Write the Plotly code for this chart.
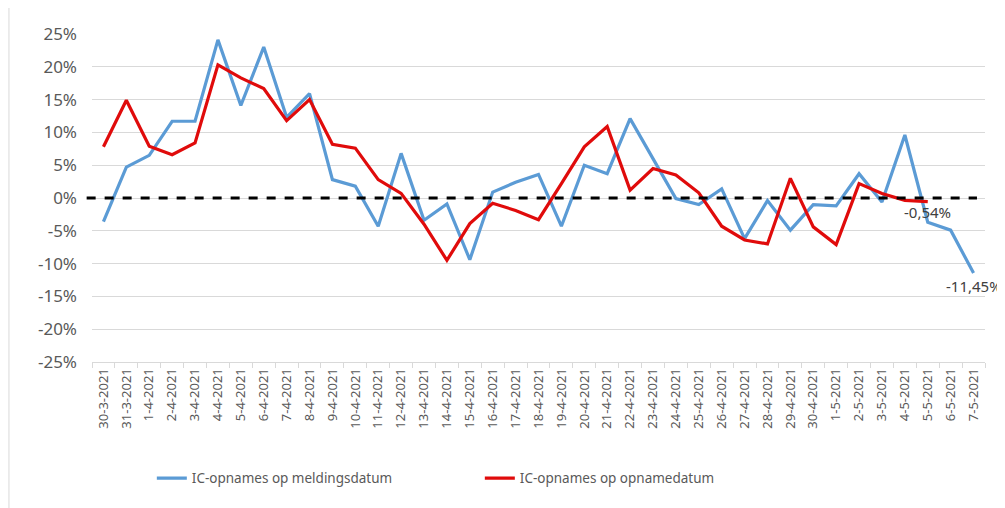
import plotly.graph_objects as go

dates = ['30-3-2021', '31-3-2021'] + [f'{d}-4-2021' for d in range(1, 31)] + [f'{d}-5-2021' for d in range(1, 8)]

melding = [-3.6, 4.7, 6.5, 11.7, 11.7, 24.1, 14.1, 23.0, 12.3, 15.9,
           2.8, 1.8, -4.3, 6.8, -3.4, -0.9, -9.4, 0.9, 2.4, 3.6,
           -4.3, 5.0, 3.7, 12.1, 6.0, -0.1, -1.0, 1.4, -6.2, -0.4,
           -4.9, -1.0, -1.2, 3.7, -0.6, 9.6, -3.7, -4.9, -11.45]

opname = [7.8, 14.9, 7.9, 6.6, 8.4, 20.3, 18.3, 16.7, 11.8, 15.0,
          8.2, 7.6, 2.8, 0.7, -4.0, -9.5, -3.9, -0.8, -1.9, -3.3,
          2.2, 7.8, 10.9, 1.2, 4.5, 3.5, 0.8, -4.3, -6.4, -7.0,
          3.0, -4.4, -7.1, 2.2, 0.7, -0.35, -0.54]

yticks = list(range(-25, 30, 5))
ytext = [f'{v}%' for v in yticks]

font = 'Noto Sans'
grey = '#595959'

fig = go.Figure()
fig.add_trace(go.Scatter(x=dates, y=melding, mode='lines', name='IC-opnames op meldingsdatum',
                         line=dict(color='#5b9bd5', width=3.2)))
fig.add_trace(go.Scatter(x=dates[:len(opname)], y=opname, mode='lines', name='IC-opnames op opnamedatum',
                         line=dict(color='#e00b0b', width=3.2)))

# zero line
fig.add_shape(type='line', xref='paper', yref='y', x0=-0.006, x1=0.991, y0=0, y1=0,
              line=dict(color='black', width=3, dash='dash'), layer='above')

# labels at line ends
fig.add_annotation(x=dates[len(opname) - 1], y=opname[-1], text='-0,54%', showarrow=False,
                   yanchor='top', yshift=2, font=dict(family=font, size=15, color='#404040'))
fig.add_annotation(x=dates[-1], y=melding[-1], text='-11,45%', showarrow=False,
                   yanchor='top', yshift=-1, font=dict(family=font, size=15, color='#404040'))

# chart border (left/top)
fig.add_shape(type='line', xref='paper', yref='paper', x0=-0.093, x1=-0.093, y0=-0.5, y1=1.082,
              line=dict(color='#d9d9d9', width=1))
fig.add_shape(type='line', xref='paper', yref='paper', x0=-0.093, x1=1.02, y0=1.082, y1=1.082,
              line=dict(color='#d9d9d9', width=1))

# page has an 8px body margin, so the figure is sized to fit inside the window
fig.update_layout(
    width=997, height=500,
    margin=dict(l=84, r=20, t=26, b=146),
    paper_bgcolor='white', plot_bgcolor='white',
    font=dict(family=font, color=grey),
    showlegend=True,
    legend=dict(orientation='h', x=0.067, xanchor='left', y=-0.355, yanchor='middle',
                entrywidth=283, font=dict(size=13.5, color=grey), bgcolor='rgba(0,0,0,0)'),
    xaxis=dict(type='category', range=[-0.5, len(dates) - 0.5], tickangle=-90,
               tickfont=dict(size=13, color=grey), showgrid=False,
               showline=True, linecolor='#d9d9d9', linewidth=1,
               ticks='outside', tickson='boundaries', ticklen=5, tickcolor='#d9d9d9'),
    yaxis=dict(range=[-25, 25], tickvals=yticks, ticktext=ytext, tickfont=dict(size=17, color=grey),
               showgrid=True, gridcolor='#d9d9d9', gridwidth=1.3, zeroline=False,
               ticklabelstandoff=14),
)

fig.write_html("out.html")
